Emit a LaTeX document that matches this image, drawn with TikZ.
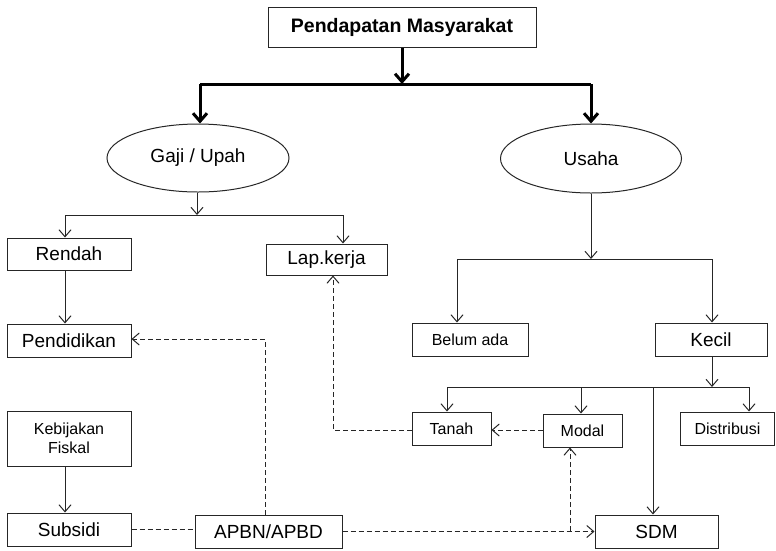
\documentclass[tikz,border=0pt]{standalone}
\usepackage{fontspec}
\setmainfont{Liberation Sans}
\usetikzlibrary{arrows.meta,shapes.geometric}
\begin{document}
\begin{tikzpicture}[x=1pt,y=-1pt,
  box/.style={draw=black!85,line width=1pt,rectangle,inner sep=0pt,font=\fontsize{19}{21}\selectfont},
  sbox/.style={box,font=\fontsize{16}{19}\selectfont},
  oval/.style={draw=black!85,line width=1pt,ellipse,inner sep=0pt,font=\fontsize{19}{21}\selectfont},
  ln/.style={draw=black!85,line width=1pt},
  arr/.style={ln,-{Straight Barb[length=7pt,width=12pt,line width=1pt]}},
  dsh/.style={ln,dash pattern=on 5pt off 3pt},
  darr/.style={dsh,-{Straight Barb[length=7pt,width=12pt,line width=1pt]}},
  thk/.style={draw=black,line width=3pt},
  tarr/.style={thk,-{Straight Barb[length=8pt,width=14pt,line width=3pt]}}]
\useasboundingbox (0,0) rectangle (776,550);
% nodes
\node[box,minimum width=268pt,minimum height=40pt,font=\fontsize{19.5}{21}\selectfont\bfseries] (top) at (402,27) {Pendapatan Masyarakat};
\node[oval,minimum width=182pt,minimum height=68pt] (gaji) at (198,158) {Gaji / Upah};
\node[oval,minimum width=181pt,minimum height=69pt] (usaha) at (591,158.5) {Usaha};
\node[box,minimum width=124pt,minimum height=32pt] (rendah) at (69,254) {Rendah};
\node[box,minimum width=121pt,minimum height=31pt] (lap) at (326.5,259.5) {Lap.kerja};
\node[box,minimum width=124pt,minimum height=33pt] (pend) at (69,340.5) {Pendidikan};
\node[sbox,minimum width=124pt,minimum height=55pt,align=center] (keb) at (69,438.5) {Kebijakan\\Fiskal};
\node[box,minimum width=124pt,minimum height=33pt] (subs) at (69,529.5) {Subsidi};
\node[box,minimum width=147pt,minimum height=33pt] (apbn) at (268.5,531.5) {APBN/APBD};
\node[sbox,minimum width=116pt,minimum height=33pt] (belum) at (470,339.5) {Belum ada};
\node[box,minimum width=112pt,minimum height=33pt] (kecil) at (711,339.5) {Kecil};
\node[sbox,minimum width=79pt,minimum height=33pt] (tanah) at (451.5,428.5) {Tanah};
\node[sbox,minimum width=79pt,minimum height=33pt] (modal) at (582.5,430.5) {Modal};
\node[sbox,minimum width=94pt,minimum height=33pt] (dist) at (727.5,428.5) {Distribusi};
\node[box,minimum width=123pt,minimum height=33pt] (sdm) at (656.5,531.5) {SDM};
% coordinates
\coordinate (j0) at (402,84);
\coordinate (jl) at (200,84);
\coordinate (jr) at (591,84);
\coordinate (g1) at (197,215);
\coordinate (gl) at (65,215);
\coordinate (gr) at (343,215);
\coordinate (u1) at (591,259);
\coordinate (ul) at (457,259);
\coordinate (ur) at (712,259);
\coordinate (k1) at (712,387);
\coordinate (kl) at (447,387);
\coordinate (km) at (581,387);
\coordinate (ks) at (653,387);
\coordinate (kr) at (749,387);
\coordinate (a1) at (265,339);
\coordinate (t1) at (333,430);
\coordinate (m1) at (570,531);
% thick connectors
\draw[tarr] (top.south -| j0) -- (j0);
\draw[thk] (jl) -- (jr);
\draw[tarr] (jl) -- (gaji.north -| jl);
\draw[tarr] (jr) -- (usaha.north -| jr);
% gaji branch
\draw[arr] (gaji.south -| g1) -- (g1);
\draw[ln] (gl) -- (gr);
\draw[arr] (gl) -- (rendah.north -| gl);
\draw[arr] (gr) -- (lap.north -| gr);
\draw[arr] (rendah.south -| gl) -- (pend.north -| gl);
\draw[arr] (keb.south -| gl) -- (subs.north -| gl);
% usaha branch
\draw[arr] (usaha.south -| u1) -- (u1);
\draw[ln] (ul) -- (ur);
\draw[arr] (ul) -- (belum.north -| ul);
\draw[arr] (ur) -- (kecil.north -| ur);
\draw[arr] (kecil.south -| k1) -- (k1);
\draw[ln] (kl) -- (kr);
\draw[arr] (kl) -- (tanah.north -| kl);
\draw[arr] (km) -- (modal.north -| km);
\draw[arr] (kr) -- (dist.north -| kr);
\draw[arr] (ks) -- (sdm.north -| ks);
% dashed
\draw[dsh] (subs.east) -- (apbn.west |- subs.east);
\draw[darr] (apbn.north -| a1) -- (a1) -- (pend.east |- a1);
\draw[darr] (apbn.east) -- (sdm.west);
\draw[darr] (m1) -- (modal.south -| m1);
\draw[darr] (modal.west |- t1) -- (tanah.east |- t1);
\draw[darr] (tanah.west |- t1) -- (t1) -- (lap.south -| t1);
\end{tikzpicture}
\end{document}
